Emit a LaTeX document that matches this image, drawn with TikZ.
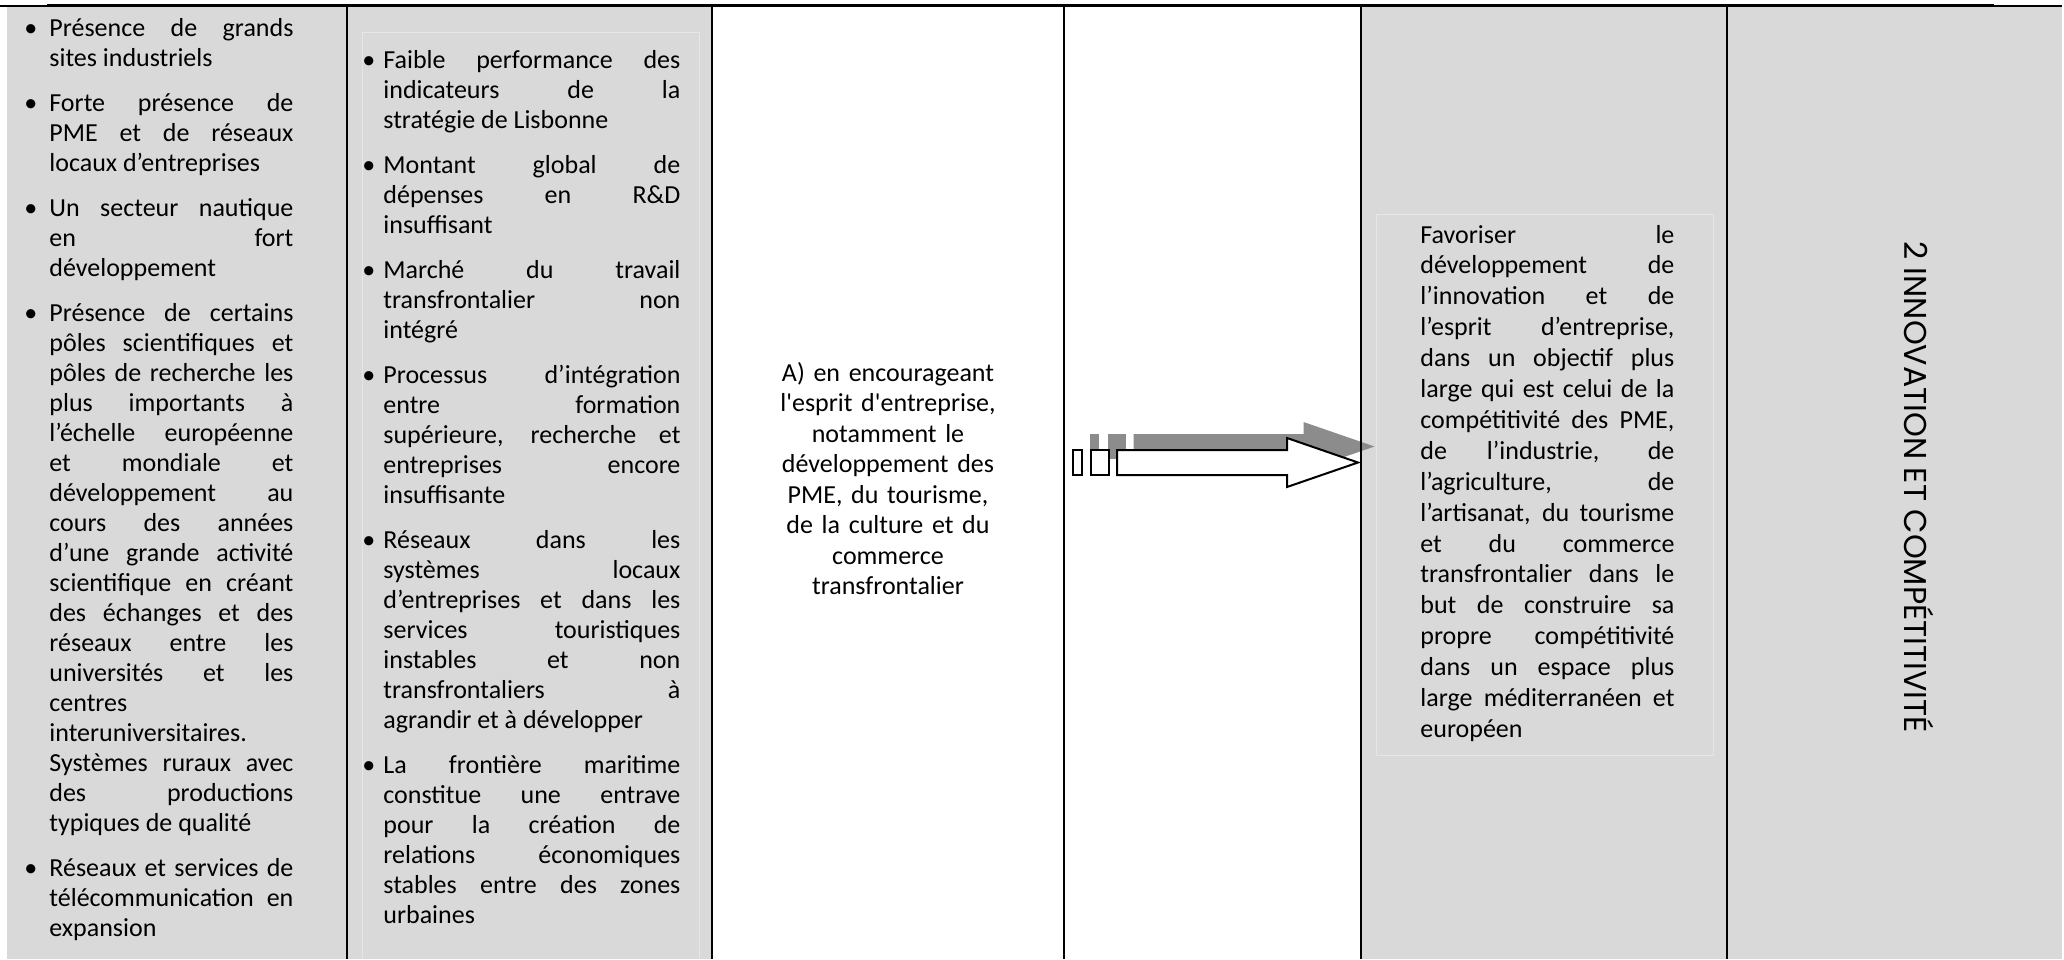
\documentclass[tikz,border=0pt]{standalone}
\usepackage{fontspec}
\setmainfont{Carlito}
\newfontfamily\plainfont{Carlito}[Ligatures=TeXOff]
\newfontfamily\titlefont{Poppins}
\definecolor{cellgray}{HTML}{D9D9D9}
\definecolor{innerline}{HTML}{E6E6E6}
\definecolor{shadowgray}{HTML}{8C8C8C}
\hyphenpenalty=10000
\exhyphenpenalty=10000
\tolerance=10000
\hbadness=10000
\newlength\bind
\newcommand\itm[1]{\noindent\hangindent=\bind\hangafter=1\makebox[\bind][l]{\textbullet}#1\par}
\tikzset{
  rule/.style={line width=1pt, draw=black},
  toprule/.style={line width=1.4pt, draw=black},
  cell/.style={fill=cellgray, draw=none},
  inner/.style={draw=innerline, line width=0.5pt},
  celltext/.style={anchor=base west, inner sep=0pt, align=justify,
    font=\fontsize{13pt}{15pt}\selectfont},
  centertext/.style={anchor=base, inner sep=0pt, align=center,
    font=\plainfont\fontsize{13pt}{15.25pt}\selectfont},
  shadowshape/.style={fill=shadowgray, draw=none},
  arrowshape/.style={fill=white, draw=black, line width=1pt, line join=miter},
}
\begin{document}
\begin{tikzpicture}[x=0.5pt, y=-0.5pt]
\useasboundingbox (0,0) rectangle (2064,959);
% backgrounds
\fill[cell] (7,5) rectangle (347,959);
\fill[cell] (347,5) rectangle (712,959);
\fill[cell] (1361,5) rectangle (1727,959);
\fill[cell] (1727,5) rectangle (2062,959);
% faint inner frames
\draw[inner] (362,32) -- (699,32);
\draw[inner] (362,32) -- (362,959);
\draw[inner] (699,32) -- (699,959);
\draw[inner] (1376,214) rectangle (1713,755);

% column 1
\node[celltext, text width=134.5pt] (c1) at (24,36) {\setlength\bind{12.5pt}%
\itm{Présence de grands \linebreak sites industriels}\vspace{7.5pt}%
\itm{Forte présence de \linebreak PME et de réseaux \linebreak locaux d’entreprises}\vspace{7.5pt}%
\itm{Un secteur nautique \linebreak en fort \linebreak développement}\vspace{7.5pt}%
\itm{Présence de certains \linebreak pôles scientifiques et \linebreak pôles de recherche les \linebreak plus importants à \linebreak l’échelle européenne \linebreak et mondiale et \linebreak développement au \linebreak cours des années \linebreak d’une grande activité \linebreak scientifique en créant \linebreak des échanges et des \linebreak réseaux entre les \linebreak universités et les \linebreak centres \linebreak interuniversitaires. \linebreak Systèmes ruraux avec \linebreak des productions \linebreak typiques de qualité}\vspace{7.5pt}%
\itm{Réseaux et services de \linebreak télécommunication en \linebreak expansion}};

% column 2
\node[celltext, text width=159pt] (c2) at (362,68) {\setlength\bind{10.5pt}%
\itm{Faible performance des \linebreak indicateurs de la \linebreak stratégie de Lisbonne}\vspace{7.5pt}%
\itm{Montant global de \linebreak dépenses en R\&D \linebreak insuffisant}\vspace{7.5pt}%
\itm{Marché du travail \linebreak transfrontalier non \linebreak intégré}\vspace{7.5pt}%
\itm{Processus d’intégration \linebreak entre formation \linebreak supérieure, recherche et \linebreak entreprises encore \linebreak insuffisante}\vspace{7.5pt}%
\itm{Réseaux dans les \linebreak systèmes locaux \linebreak d’entreprises et dans les \linebreak services touristiques \linebreak instables et non \linebreak transfrontaliers à \linebreak agrandir et à développer}\vspace{7.5pt}%
\itm{La frontière maritime \linebreak constitue une entrave \linebreak pour la création de \linebreak relations économiques \linebreak stables entre des zones \linebreak urbaines}};

% column 3
\node[centertext, text width=170pt] (c3) at (888,381) {A) en encourageant\\l'esprit d'entreprise,\\notamment le\\développement des\\PME, du tourisme,\\de la culture et du\\commerce\\transfrontalier};

% column 4 : arrow with shadow
\begin{scope}[shift={(16.5,-16)}]
\fill[shadowshape] (1073,450) rectangle (1082,475);
\fill[shadowshape] (1091,450) rectangle (1109,475);
\fill[shadowshape] (1117,450) -- (1287,450) -- (1287,438) -- (1358,462.5) -- (1287,487) -- (1287,475) -- (1117,475) -- cycle;
\end{scope}
\filldraw[arrowshape] (1073,450) rectangle (1082,475);
\filldraw[arrowshape] (1091,450) rectangle (1109,475);
\filldraw[arrowshape] (1117,450) -- (1287,450) -- (1287,438) -- (1358,462.5) -- (1287,487) -- (1287,475) -- (1117,475) -- cycle;

% column 5
\node[celltext, text width=127pt, font=\fontsize{13pt}{15.45pt}\selectfont] (c5) at (1420,243) {%
Favoriser le \linebreak développement de \linebreak l’innovation et de \linebreak l’esprit d’entreprise, \linebreak dans un objectif plus \linebreak large qui est celui de la \linebreak compétitivité des PME, \linebreak de l’industrie, de \linebreak l’agriculture, de \linebreak l’artisanat, du tourisme \linebreak et du commerce \linebreak transfrontalier dans le \linebreak but de construire sa \linebreak propre compétitivité \linebreak dans un espace plus \linebreak large méditerranéen et \linebreak européen};

% column 6
\node[rotate=-90, inner sep=0pt, font=\titlefont\fontsize{15.8pt}{18pt}\selectfont] (c6) at (1919,487) {2 INNOVATION ET COMPÉTITIVITÉ};

% rules
\draw[rule] (347,5) -- (347,959);
\draw[rule] (712,5) -- (712,959);
\draw[rule] (1064,5) -- (1064,959);
\draw[rule] (1361,5) -- (1361,959);
\draw[rule] (1727,5) -- (1727,959);
\draw[rule] (0,5.6) -- (47,5.6);
\draw[rule] (1994,5.6) -- (2062,5.6);
\draw[toprule] (47,5.3) -- (1994,5.3);
\end{tikzpicture}
\end{document}
